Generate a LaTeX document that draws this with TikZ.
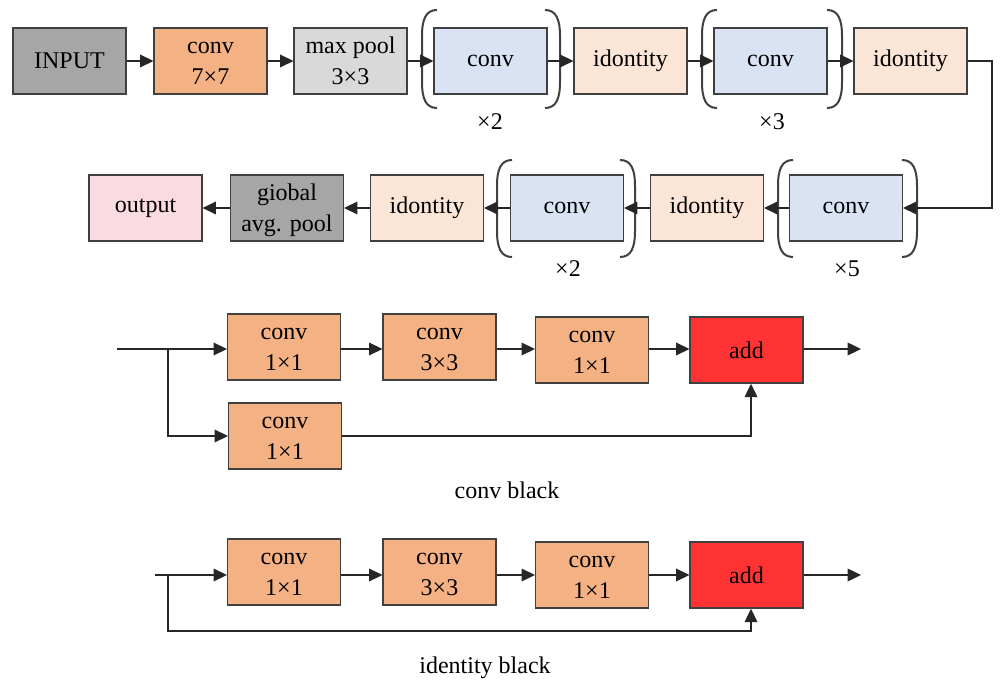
\documentclass[tikz,border=0pt]{standalone}
\usepackage{fontspec}
\setmainfont{Liberation Serif}
\usetikzlibrary{arrows.meta}
\definecolor{bordc}{HTML}{404040}
\definecolor{cgray}{HTML}{A6A6A6}
\definecolor{corange}{HTML}{F4B183}
\definecolor{clgray}{HTML}{D9D9D9}
\definecolor{cblue}{HTML}{DAE3F3}
\definecolor{cpeach}{HTML}{FBE5D6}
\definecolor{cpink}{HTML}{FADBE1}
\definecolor{cred}{HTML}{FF3333}
\tikzset{
  box/.style={draw=bordc, line width=1.1pt, minimum width=84.5pt, minimum height=49.5pt,
    inner sep=0pt, font=\fontsize{18}{23}\selectfont},
  conn/.style={draw=black!85, line width=0.95pt},
  arr/.style={conn, -{Triangle[length=10pt,width=9.5pt]}},
  brk/.style={draw=bordc, line width=1.5pt},
  lbl/.style={font=\fontsize{18}{22}\selectfont, inner sep=0pt},
}
\newcommand\twol[2]{\raisebox{-1.6pt}[\height][\depth]{\begin{tabular}{@{}c@{}}#1\\#2\end{tabular}}}
\newcommand\lpar[3]{\draw[brk] (#1+15,#2) .. controls (#1+4,#2) and (#1,#2+9) .. (#1,#2+26) -- (#1,#3-26) .. controls (#1,#3-9) and (#1+4,#3) .. (#1+15,#3);}
\newcommand\rpar[3]{\draw[brk] (#1-15,#2) .. controls (#1-4,#2) and (#1,#2+9) .. (#1,#2+26) -- (#1,#3-26) .. controls (#1,#3-9) and (#1-4,#3) .. (#1-15,#3);}
\begin{document}
\begin{tikzpicture}[x=0.75pt,y=-0.75pt]
\useasboundingbox[fill=white] (0,0) rectangle (1000,684);
% ---------- row 1 ----------
\node[box, fill=cgray]   (in)  at (69.5,61)  {INPUT};
\node[box, fill=corange] (c7)  at (210.5,61) {\twol{conv}{7×7}};
\node[box, fill=clgray]  (mp)  at (350.5,61) {\twol{max pool}{3×3}};
\node[box, fill=cblue]   (cA)  at (490.5,61) {conv};
\node[box, fill=cpeach]  (idA) at (630.5,61) {idontity};
\node[box, fill=cblue]   (cB)  at (770.5,61) {conv};
\node[box, fill=cpeach]  (idB) at (910.5,61) {idontity};
\lpar{422}{10}{108}\rpar{560}{10}{108}
\lpar{702}{10}{108}\rpar{842}{10}{108}
\node[lbl] (xA) at (490,122) {×2};
\node[lbl] (xB) at (772,122) {×3};
% ---------- row 2 ----------
\node[box, fill=cpink]   (out) at (145.5,208) {output};
\node[box, fill=cgray]   (gap) at (287,208)   {\twol{giobal}{avg. pool}};
\node[box, fill=cpeach]  (idC) at (427,208)   {idontity};
\node[box, fill=cblue]   (cC)  at (567,208)   {conv};
\node[box, fill=cpeach]  (idD) at (707,208)   {idontity};
\node[box, fill=cblue]   (cD)  at (846,208)   {conv};
\lpar{497}{160}{257}\rpar{635}{160}{257}
\lpar{778}{160}{257}\rpar{917}{160}{257}
\node[lbl] (xC) at (568,269) {×2};
\node[lbl] (xD) at (847,269) {×5};
% row connectors
\draw[arr] (in) -- (c7);
\draw[arr] (c7) -- (mp);
\draw[arr] (mp) -- (cA);
\draw[arr] (cA) -- (idA);
\draw[arr] (idA) -- (cB);
\draw[arr] (cB) -- (idB);
\coordinate (t1) at (992,61);
\coordinate (t2) at (992,208);
\draw[arr] (idB.east) -- (t1) -- (t2) -- (cD.east);
\draw[arr] (cD) -- (idD);
\draw[arr] (idD) -- (cC);
\draw[arr] (cC) -- (idC);
\draw[arr] (idC) -- (gap);
\draw[arr] (gap) -- (out);
% ---------- conv black ----------
\node[box, fill=corange] (k1) at (284,347)   {\twol{conv}{1×1}};
\node[box, fill=corange] (k2) at (439.5,347) {\twol{conv}{3×3}};
\node[box, fill=corange] (k3) at (592,350)   {\twol{conv}{1×1}};
\node[box, fill=cred]    (ka) at (746.5,350) {add};
\node[box, fill=corange] (k4) at (285,436)   {\twol{conv}{1×1}};
\coordinate (s1) at (117,349);
\coordinate (b1) at (168,349);
\coordinate (e1) at (861,349);
\coordinate (u1) at (751,436);
\draw[arr] (s1) -- (k1.west |- s1);
\draw[arr] (b1) |- (k4.west);
\draw[arr] (k1.east |- s1) -- (k2.west |- s1);
\draw[arr] (k2.east |- s1) -- (k3.west |- s1);
\draw[arr] (k3.east |- s1) -- (ka.west |- s1);
\draw[arr] (ka.east |- s1) -- (e1);
\draw[arr] (k4.east) -- (u1) -- (u1 |- ka.south);
\node[lbl] (t3) at (507,490) {conv black};
% ---------- identity black ----------
\node[box, fill=corange] (i1) at (284,572)   {\twol{conv}{1×1}};
\node[box, fill=corange] (i2) at (439.5,572) {\twol{conv}{3×3}};
\node[box, fill=corange] (i3) at (592,575)   {\twol{conv}{1×1}};
\node[box, fill=cred]    (ia) at (746.5,575) {add};
\coordinate (s2) at (155,575);
\coordinate (b2) at (168,575);
\coordinate (d2) at (168,631);
\coordinate (u2) at (751,631);
\coordinate (e2) at (861,575);
\draw[arr] (s2) -- (i1.west |- s2);
\draw[arr] (i1.east |- s2) -- (i2.west |- s2);
\draw[arr] (i2.east |- s2) -- (i3.west |- s2);
\draw[arr] (i3.east |- s2) -- (ia.west |- s2);
\draw[arr] (ia.east |- s2) -- (e2);
\draw[arr] (b2) -- (d2) -- (u2) -- (u2 |- ia.south);
\node[lbl] (t4) at (485,668) {identity black};
\end{tikzpicture}
\end{document}
